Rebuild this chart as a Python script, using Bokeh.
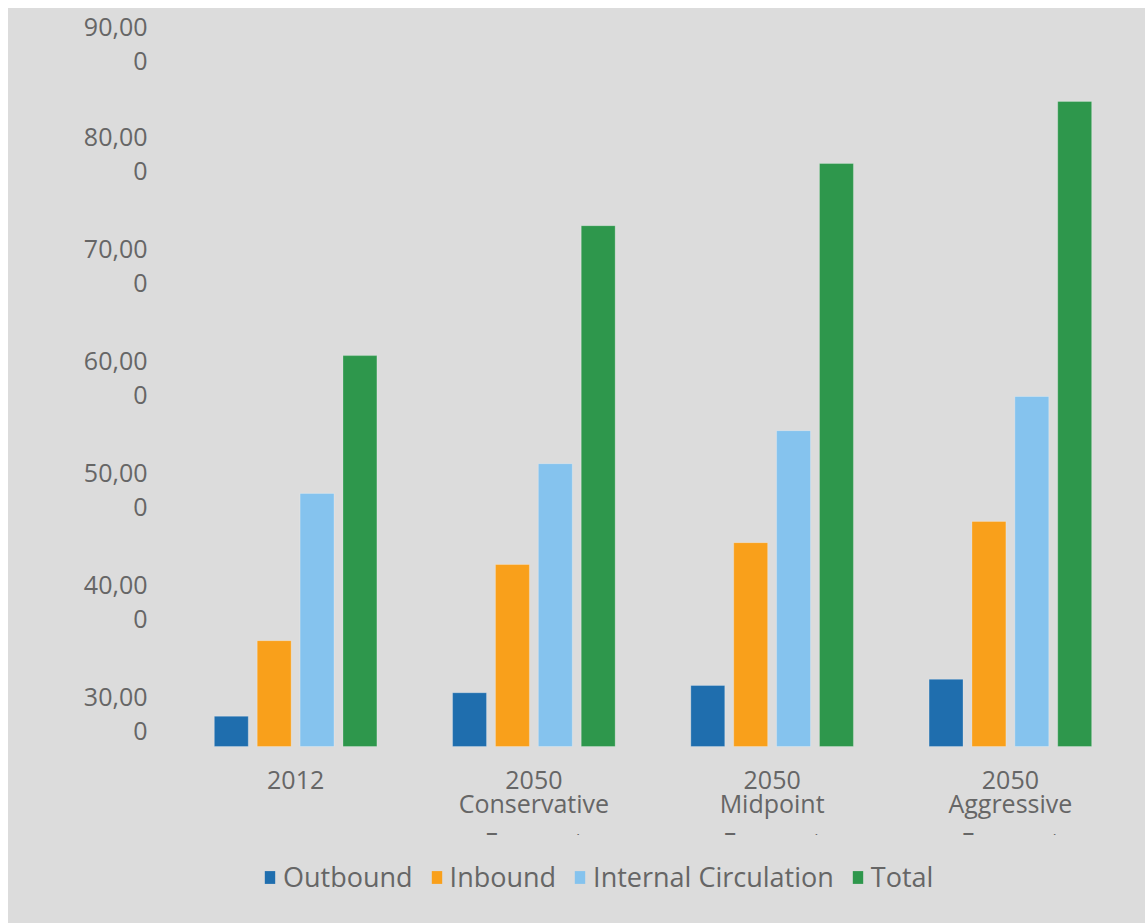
from bokeh.plotting import figure
from bokeh.models import (ColumnDataSource, FactorRange, Range1d, FixedTicker,
                          Legend, LegendItem, Spacer)
from bokeh.layouts import column, row
from bokeh.transform import dodge
from bokeh.core.properties import value
from bokeh.embed import file_html
from bokeh.resources import INLINE

# ---- data ----
categories = ["2012", "2050 Conservative Forecast", "2050 Midpoint Forecast",
              "2050 Aggressive Forecast"]
category_labels = ["2012", "2050\nConservative\nForecast", "2050\nMidpoint\nForecast",
                   "2050\nAggressive\nForecast"]
outbound = [32700, 34800, 35450, 36000]
inbound = [39450, 46250, 48200, 50100]
internal_circulation = [52600, 55250, 58200, 61250]
total = [64900, 76500, 82050, 87600]
series_names = ["Outbound", "Inbound", "Internal Circulation", "Total"]
y_ticks = [30000, 40000, 50000, 60000, 70000, 80000, 90000]
y_tick_labels = ["30,00\n0", "40,00\n0", "50,00\n0", "60,00\n0", "70,00\n0",
                 "80,00\n0", "90,00\n0"]
AXIS_FLOOR = 30000

colors = ["#1f6eae", "#f9a01b", "#85c3ee", "#2e974c"]
BG = "#dcdcdc"
TXT = "#666666"
FONT = "Open Sans"

lines = [lbl.split("\n") + [""] * (3 - len(lbl.split("\n"))) for lbl in category_labels]
src = ColumnDataSource(dict(cat=categories, Outbound=outbound, Inbound=inbound,
                            Internal=internal_circulation, Total=total,
                            line1=[l[0] for l in lines], line2=[l[1] for l in lines],
                            line3=[l[2] for l in lines],
                            base=[AXIS_FLOOR] * len(categories)))

W = 1137
p = figure(width=W, height=827, output_backend="svg", toolbar_location=None,
           x_range=FactorRange(*categories, range_padding=0),
           y_range=Range1d(22054, 95000),
           x_axis_location=None,
           min_border_left=168, min_border_right=16, min_border_top=10,
           min_border_bottom=0)
p.background_fill_color = BG
p.border_fill_color = BG
p.outline_line_color = None
p.grid.visible = False
p.styles = {"background-color": BG}

offsets = [-0.27, -0.09, 0.09, 0.27]
fields = ["Outbound", "Inbound", "Internal", "Total"]
for f, off, c in zip(fields, offsets, colors):
    p.vbar(x=dodge("cat", off, range=p.x_range), top=f, bottom="base",
           width=0.1425, source=src, fill_color=c, line_color="white",
           line_alpha=0.25, line_width=1)

# category labels, one glyph per line (the last line is clipped by the frame, as in the original)
for col, off in zip(["line1", "line2", "line3"], [33, 56, 94]):
    p.text(x="cat", y="base", text=col, source=src, text_align="center",
           text_baseline="alphabetic", y_offset=off, text_font=value(FONT),
           text_font_size="25px", text_color=TXT)

ax = p.yaxis[0]
ax.ticker = FixedTicker(ticks=y_ticks)
ax.major_label_overrides = {t: l + "\n \n " for t, l in zip(y_ticks, y_tick_labels)}
ax.axis_line_color = None
ax.major_tick_line_color = None
ax.minor_tick_line_color = None
ax.major_label_standoff = 23
ax.major_label_text_font = FONT
ax.major_label_text_font_size = "25px"
ax.major_label_text_color = TXT
ax.major_label_text_line_height = 1.0

# legend strip below the chart (its frame is aligned with the chart's frame)
pl = figure(width=W, height=88, output_backend="svg", toolbar_location=None,
            x_range=Range1d(0, 1), y_range=Range1d(0, 1),
            x_axis_location=None, y_axis_location=None,
            min_border=0)
pl.background_fill_color = BG
pl.border_fill_color = BG
pl.outline_line_color = None
pl.grid.visible = False
pl.styles = {"background-color": BG}
# zero-height swatch renderers used only as legend keys
swatch = ColumnDataSource(dict(x=[0.5], top=[0], bottom=[0]))
leg_renderers = [pl.vbar(x="x", top="top", bottom="bottom", width=0.0, source=swatch,
                         fill_color=c, line_color=None) for c in colors]
leg = Legend(items=[LegendItem(label=n, renderers=[r])
                    for n, r in zip(series_names, leg_renderers)],
             location=(87, 28), orientation="horizontal",
             padding=0, margin=0, spacing=17, border_line_color=None,
             background_fill_alpha=0, glyph_width=13, glyph_height=16,
             label_standoff=7, label_text_font=FONT,
             label_text_font_size="27px", label_text_color=TXT)
pl.add_layout(leg)

layout = column(Spacer(height=8), row(Spacer(width=8), column(p, pl)))
open("out.html", "w").write(file_html(layout, INLINE))
